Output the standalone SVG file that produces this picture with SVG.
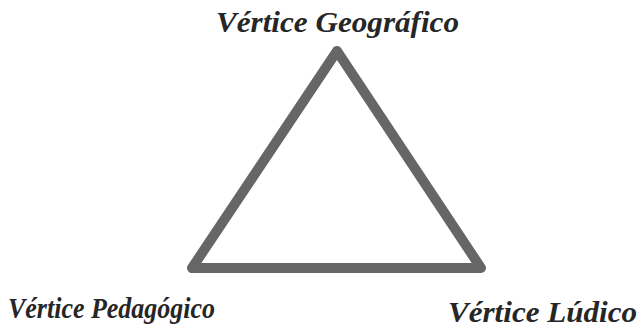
<svg xmlns="http://www.w3.org/2000/svg" width="642" height="328" viewBox="0 0 642 328">
<style>
.lbl{font-family:"Liberation Serif","Times New Roman",serif;font-weight:bold;font-style:italic;font-size:30px;fill:#262626}
.tri{fill:none;stroke:#666666;stroke-width:10;stroke-linejoin:round}
</style>
<rect width="642" height="328" fill="#ffffff"/>
<g id="connectors">
<polygon class="tri" points="337,51 192,268 481,268"/>
</g>
<g id="node-geografico"><text class="lbl" x="216" y="32" textLength="243" lengthAdjust="spacingAndGlyphs">Vértice Geográfico</text></g>
<g id="node-pedagogico"><text class="lbl" x="8" y="318" textLength="207" lengthAdjust="spacingAndGlyphs">Vértice Pedagógico</text></g>
<g id="node-ludico"><text class="lbl" x="448" y="322" textLength="189" lengthAdjust="spacingAndGlyphs">Vértice Lúdico</text></g>
</svg>
